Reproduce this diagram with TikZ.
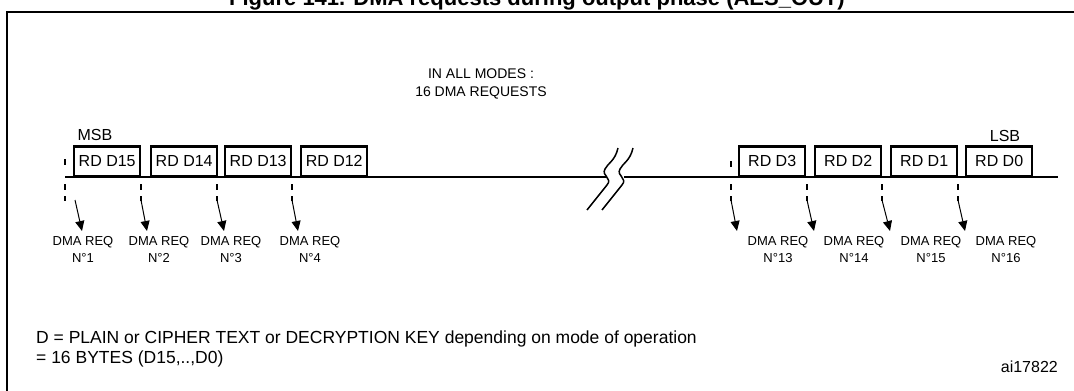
\documentclass[tikz,border=0pt]{standalone}
\usepackage{fontspec}
\setmainfont{Liberation Sans}
\usetikzlibrary{arrows.meta}

\begin{document}
\begin{tikzpicture}[x=1pt,y=-1pt,>={Triangle[length=10pt,width=9pt]},
  regbox/.style={draw,line width=2.4pt,minimum width=66pt,minimum height=30pt,inner sep=0pt,anchor=south west,font=\fontsize{16}{16}\selectfont},
  reqlbl/.style={align=center,inner sep=0pt,anchor=north,font=\fontsize{13}{17}\selectfont},
  tick/.style={line width=1.6pt},
  axis/.style={line width=2.5pt}]
  \useasboundingbox (0,0) rectangle (1074,391);
  \clip (0,0) rectangle (1074,391);
  % frame and title (cut by the page)
  \draw[line width=2.2pt] (1080,12) -- (7,12) -- (7,400);
  \node[anchor=base,inner sep=0pt,font=\bfseries\fontsize{22}{24}\selectfont] (title) at (537,5) {Figure 141. DMA requests during output phase (AES\_OUT)};
  \node[align=center,inner sep=0pt,anchor=north,font=\fontsize{14}{18}\selectfont] (modes) at (481,69) {IN ALL MODES :\\16 DMA REQUESTS};
  % time line with break
  \coordinate (tl0) at (65,177);
  \coordinate (tl1) at (607,177);
  \coordinate (tr0) at (624,177);
  \coordinate (tr1) at (1058,177);
  \draw[axis] (tl0) -- (tl1);
  \draw[axis] (tr0) -- (tr1);
  \foreach \dx in {0,15}
    \draw[line width=1.5pt,shift={(\dx,0)}] (587,210) -- (607,185) .. controls (613,178) and (601,176) .. (605,169) .. controls (608,163) and (615,161) .. (618,148);
  % data registers
  \foreach \x/\n in {73/15,150/14,224/13,300/12,738/3,814/2,890/1,965/0}
    \node[regbox] (d\n) at (\x,177.5) {RD D\n};
  \node[font=\fontsize{16}{16}\selectfont] (msb) at (95,135) {MSB};
  \node[font=\fontsize{16}{16}\selectfont] (lsb) at (1005,136) {LSB};
  % dma requests
  \draw[tick] (65,159) -- (65,165);
  \draw[tick] (731,161) -- (731,167);
  \foreach \s/\a/\e/\c/\n in {65/75/82/83/1,141/141/147/159/2,217/217/224/231/3,292/292/298/310/4,731/731/737/778/13,807/807/814/854/14,882/882/890/931/15,958/958/965/1006/16}{
    \coordinate (t\n) at (\a,200);
    \coordinate (h\n) at (\e,231);
    \draw[tick] (\s,184) -- (\s,190) (\s,196) -- (\s,201);
    \draw[->,line width=1pt] (t\n) -- (h\n);
    \node[reqlbl] (req\n) at (\c,236) {DMA REQ\\N°\n};
  }
  % notes
  \node[align=left,inner sep=0pt,anchor=north west,font=\fontsize{17.5}{19.5}\selectfont] (note) at (36,331) {D = PLAIN or CIPHER TEXT or DECRYPTION KEY depending on mode of operation\\= 16 BYTES (D15,..,D0)};
  \node[inner sep=0pt,anchor=base east,font=\fontsize{16}{16}\selectfont] (ref) at (1058,372) {ai17822};
\end{tikzpicture}
\end{document}
